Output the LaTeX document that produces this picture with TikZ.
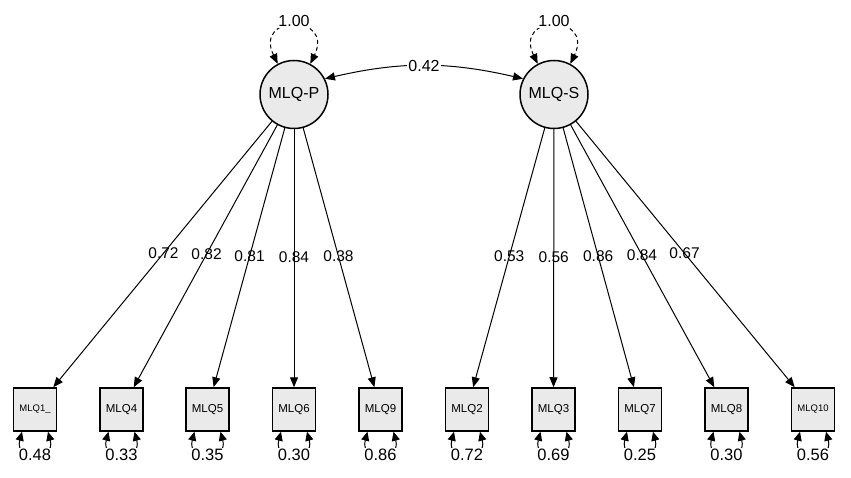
\documentclass[tikz,border=0pt]{standalone}
\usepackage{fontspec}
\setmainfont{Liberation Sans}
\usetikzlibrary{arrows.meta,calc}
\definecolor{nodefill}{RGB}{234,234,234}
\begin{document}
\begin{tikzpicture}[x=1pt,y=1pt,
  latent/.style={circle,draw,line width=1.5pt,fill=nodefill,minimum size=68pt,inner sep=0pt,font=\fontsize{16}{16}\selectfont},
  obs/.style={rectangle,draw,line width=1.5pt,fill=nodefill,minimum size=43pt,inner sep=0pt,font=\fontsize{11.5}{12}\selectfont},
  obssmall/.style={obs,font=\fontsize{9.5}{10}\selectfont},
  tipa/.style={-{Triangle[length=10pt,width=8pt]}},
  twotip/.style={{Triangle[length=10pt,width=8pt]}-{Triangle[length=10pt,width=8pt]}},
  restip/.style={{Triangle[length=9pt,width=8pt]}-{Triangle[length=9pt,width=8pt]}},
  conn/.style={line width=1pt},
  loadlab/.style={inner sep=0pt,font=\fontsize{15.5}{16}\selectfont},
  varlab/.style={fill=white,inner sep=1pt,font=\fontsize{16}{16}\selectfont},
  reslab/.style={fill=white,inner sep=1pt,font=\fontsize{16.5}{17}\selectfont}
]
\useasboundingbox (0,0) rectangle (851,477);

% latent variables
\node[latent] (P) at (294,382.5) {MLQ-P};
\node[latent] (S) at (554,382.5) {MLQ-S};

% observed variables
\node[obssmall] (b1) at (35,67.5) {MLQ1\_};
\node[obs] (b4) at (121.5,67.5) {MLQ4};
\node[obs] (b5) at (207.5,67.5) {MLQ5};
\node[obs] (b6) at (294,67.5) {MLQ6};
\node[obs] (b9) at (380.5,67.5) {MLQ9};
\node[obs] (b2) at (467,67.5) {MLQ2};
\node[obs] (b3) at (553.5,67.5) {MLQ3};
\node[obs] (b7) at (640,67.5) {MLQ7};
\node[obs] (b8) at (726.5,67.5) {MLQ8};
\node[obssmall] (b10) at (813,67.5) {MLQ10};

% loadings
\draw[conn,tipa] (P) -- (b1);
\node[loadlab] at ($(P)!0.504!(b1)$) {0.72};
\draw[conn,tipa] (P) -- (b4);
\node[loadlab] at ($(P)!0.507!(b4)$) {0.82};
\draw[conn,tipa] (P) -- (b5);
\node[loadlab] at ($(P)!0.514!(b5)$) {0.81};
\draw[conn,tipa] (P) -- (b6);
\node[loadlab] at ($(P)!0.517!(b6)$) {0.84};
\draw[conn,tipa] (P) -- (b9);
\node[loadlab] at ($(P)!0.514!(b9)$) {0.38};

\draw[conn,tipa] (S) -- (b2);
\node[loadlab] at ($(S)!0.514!(b2)$) {0.53};
\draw[conn,tipa] (S) -- (b3);
\node[loadlab] at ($(S)!0.517!(b3)$) {0.56};
\draw[conn,tipa] (S) -- (b7);
\node[loadlab] at ($(S)!0.514!(b7)$) {0.86};
\draw[conn,tipa] (S) -- (b8);
\node[loadlab] at ($(S)!0.510!(b8)$) {0.84};
\draw[conn,tipa] (S) -- (b10);
\node[loadlab] at ($(S)!0.504!(b10)$) {0.67};

% covariance
\draw[conn,twotip] (P.27) to[bend left=13] node[varlab]{0.42} (S.153);

% latent variances
\draw[conn,twotip,dash pattern=on 4pt off 3pt] (P.118) .. controls +(-24,50) and +(24,50) .. (P.62)
  node[pos=0.5,varlab,yshift=5pt]{1.00};
\draw[conn,twotip,dash pattern=on 4pt off 3pt] (S.118) .. controls +(-24,50) and +(24,50) .. (S.62)
  node[pos=0.5,varlab,yshift=5pt]{1.00};

% residual variances
\foreach \b/\v in {b1/0.48,b4/0.33,b5/0.35,b6/0.30,b9/0.86,b2/0.72,b3/0.69,b7/0.25,b8/0.30,b10/0.56}{
  \draw[conn,restip] ([xshift=-13pt]\b.south) .. controls +(-8,-30) and +(8,-30) .. ([xshift=13pt]\b.south)
    node[pos=0.5,reslab,yshift=-1pt]{\v};
}
\end{tikzpicture}
\end{document}
